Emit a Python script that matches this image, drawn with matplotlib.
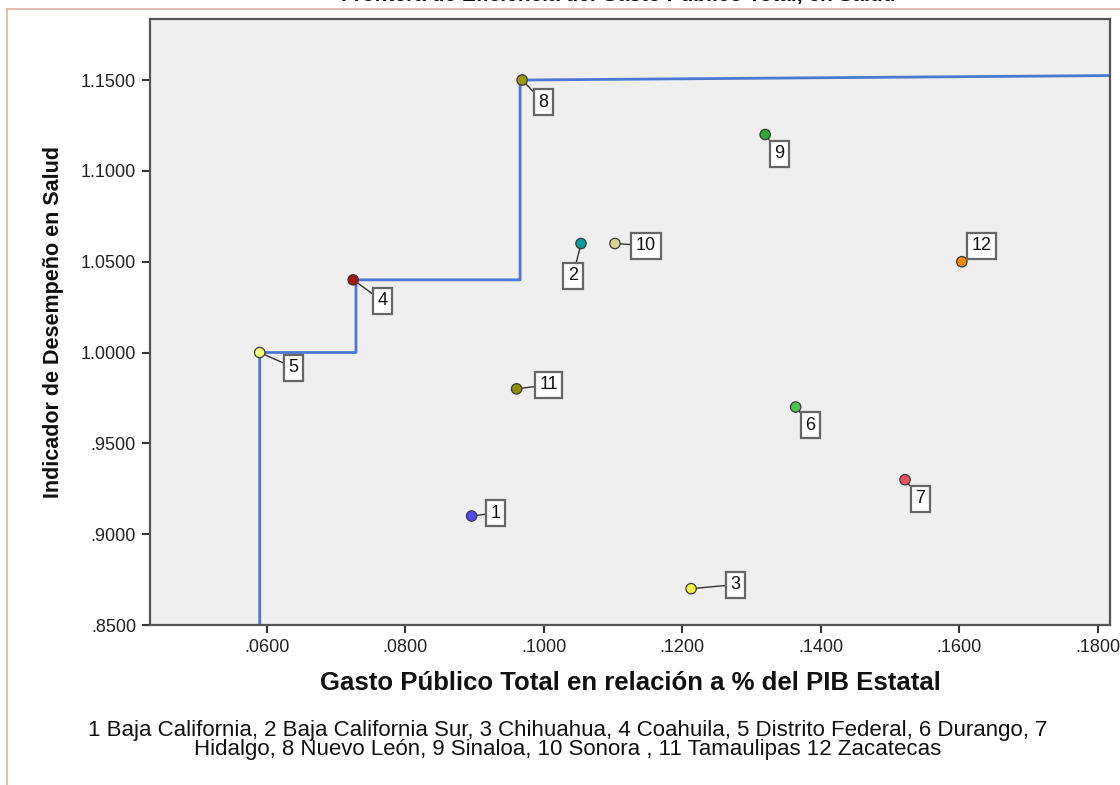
import matplotlib
matplotlib.use("Agg")
import matplotlib.pyplot as plt
from matplotlib.ticker import FuncFormatter
from matplotlib.lines import Line2D

plt.rcParams['font.family'] = ['Liberation Sans', 'DejaVu Sans']

# State data: public spending (% of state GDP) vs health performance indicator
state_ids = [1, 2, 3, 4, 5, 6, 7, 8, 9, 10, 11, 12]
gasto = [0.0896, 0.1054, 0.1213, 0.0725, 0.0590, 0.1364,
         0.1522, 0.0969, 0.1320, 0.1103, 0.0961, 0.1604]
desempeno = [0.910, 1.060, 0.870, 1.040, 1.000, 0.970,
             0.930, 1.150, 1.120, 1.060, 0.980, 1.050]
colores = ['#4c4cf2', '#0a9a9a', '#f2f04a', '#a8120f', '#fbfb7a', '#4cc44c',
           '#f0525a', '#9a9a10', '#30a83a', '#d6d494', '#8e8e08', '#f88a12']

# Efficiency frontier (step line)
frontera_x = [0.0590, 0.0590, 0.0729, 0.0729, 0.0966, 0.0966, 0.1830]
frontera_y = [0.8500, 1.0000, 1.0000, 1.0400, 1.0400, 1.1500, 1.1525]

x_ticks = [0.06, 0.08, 0.10, 0.12, 0.14, 0.16, 0.18]
y_ticks = [0.85, 0.90, 0.95, 1.00, 1.05, 1.10, 1.15]

# label box offsets (pixels, x right / y up)
label_offsets = {1: (24, 3), 2: (-8, -32), 3: (44, 4), 4: (29, -21),
                 5: (34, -15), 6: (15, -18), 7: (15, -19), 8: (21, -22),
                 9: (14, -19), 10: (31, -2), 11: (32, 4), 12: (20, 16)}

W, H = 1120, 785
fig = plt.figure(figsize=(W / 100, H / 100), dpi=100)
fig.patch.set_facecolor('white')

# page frame lines
fig.add_artist(Line2D([7 / W, 7 / W], [0, 1 - 9 / H], color='#d8b5a2', lw=1.2,
                      transform=fig.transFigure))
fig.add_artist(Line2D([7 / W, 1], [1 - 9 / H, 1 - 9 / H], color='#d8b5a2', lw=1.2,
                      transform=fig.transFigure))

# title (runs past the top edge of the page)
fig.text(618 / W, 1 + 4.8 / H, 'Frontera de Eficiencia del Gasto Público Total, en Salud',
         ha='center', va='center', fontsize=15, fontweight='bold', color='#111')

left, right, top, bottom = 150, 1110, 19, 625
ax = fig.add_axes([left / W, 1 - bottom / H, (right - left) / W, (bottom - top) / H])
ax.set_facecolor('#efefef')

ax.set_xlim(0.04315, 0.1818)
ax.set_ylim(0.85, 1.1836)

ax.plot(frontera_x, frontera_y, color='#4a78d2', lw=2.0, zorder=2, clip_on=True)

ax.scatter(gasto, desempeno, s=56, c=colores, edgecolors='#3a3a3a',
           linewidths=0.9, zorder=4)

px2pt = 0.72
for sid, gx, dy in zip(state_ids, gasto, desempeno):
    ox, oy = label_offsets[sid]
    ax.annotate(str(sid), xy=(gx, dy), xytext=(ox * px2pt, oy * px2pt),
                textcoords='offset points', ha='center', va='center',
                fontsize=13, color='#111', zorder=5,
                bbox=dict(boxstyle='square,pad=0.25', fc='white', ec='#666', lw=1.6),
                arrowprops=dict(arrowstyle='-', color='#333', lw=1.0,
                                shrinkA=0, shrinkB=4))

def fmt(v, pos):
    s = f"{v:.4f}"
    if s.startswith('0.'):
        s = s[1:]
    return s

ax.set_xticks(x_ticks)
ax.set_yticks(y_ticks)
ax.xaxis.set_major_formatter(FuncFormatter(fmt))
ax.yaxis.set_major_formatter(FuncFormatter(fmt))
ax.tick_params(direction='out', length=6, width=1.5, color='#333',
               labelsize=13, labelcolor='#222', pad=4)

for sp in ax.spines.values():
    sp.set_color('#555')
    sp.set_linewidth(1.6)

ax.set_xlabel('Gasto Público Total en relación a % del PIB Estatal',
              fontsize=18.5, fontweight='bold', color='#111', labelpad=11)
ax.set_ylabel('Indicador de Desempeño en Salud',
              fontsize=15.5, fontweight='bold', color='#111', labelpad=12)

fig.text(568 / W, 1 - 740 / H,
         '1 Baja California, 2 Baja California Sur, 3 Chihuahua, 4 Coahuila, 5 Distrito Federal, 6 Durango, 7\n'
         'Hidalgo, 8 Nuevo León, 9 Sinaloa, 10 Sonora , 11 Tamaulipas 12 Zacatecas',
         ha='center', va='center', fontsize=16, color='#111', linespacing=0.85)

fig.savefig('out.png', dpi=100)
